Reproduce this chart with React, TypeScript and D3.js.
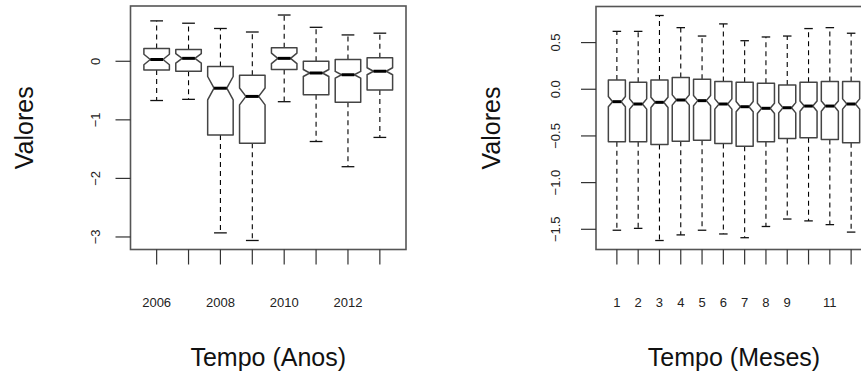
import * as d3 from "d3";
import React from "react";

// Anual boxes
const years = ["2006", "2007", "2008", "2009", "2010", "2011", "2012", "2013"];
const yearTickLabels = ["2006", "", "2008", "", "2010", "", "2012", ""];
const yearWhiskerHi = [0.69, 0.65, 0.56, 0.5, 0.79, 0.58, 0.45, 0.48];
const yearQ3 = [0.22, 0.2, -0.09, -0.24, 0.23, 0.0, 0.03, 0.06];
const yearMedian = [0.03, 0.05, -0.46, -0.6, 0.05, -0.2, -0.23, -0.17];
const yearQ1 = [-0.15, -0.17, -1.26, -1.4, -0.14, -0.57, -0.7, -0.49];
const yearWhiskerLo = [-0.67, -0.65, -2.93, -3.06, -0.69, -1.37, -1.8, -1.3];
const yearNotch = [0.09, 0.08, 0.2, 0.145, 0.09, 0.06, 0.057, 0.06];
const yearYTicks = [0, -1, -2, -3];

// Monthly boxes
const months = ["1", "2", "3", "4", "5", "6", "7", "8", "9", "10", "11", "12"];
const monthTickLabels = ["1", "2", "3", "4", "5", "6", "7", "8", "9", "", "11", ""];
const monthWhiskerHi = [0.62, 0.62, 0.79, 0.66, 0.57, 0.7, 0.52, 0.56, 0.57, 0.65, 0.66, 0.6];
const monthQ3 = [0.1, 0.075, 0.1, 0.125, 0.107, 0.082, 0.075, 0.065, 0.046, 0.075, 0.082, 0.082];
const monthMedian = [-0.133, -0.158, -0.14, -0.115, -0.122, -0.158, -0.187, -0.204, -0.198, -0.18, -0.18, -0.158];
const monthQ1 = [-0.563, -0.563, -0.591, -0.556, -0.545, -0.581, -0.61, -0.563, -0.527, -0.52, -0.538, -0.574];
const monthWhiskerLo = [-1.51, -1.49, -1.62, -1.56, -1.51, -1.55, -1.59, -1.47, -1.39, -1.41, -1.45, -1.53];
const monthNotch = [0.055, 0.055, 0.055, 0.055, 0.055, 0.055, 0.055, 0.055, 0.055, 0.055, 0.055, 0.055];
const monthYTicks = [0.5, 0, -0.5, -1, -1.5];

const FONT = "'Liberation Sans', Arial, Helvetica, sans-serif";

type PanelProps = {
  cats: string[];
  tickLabels: string[];
  hi: number[];
  q3: number[];
  med: number[];
  q1: number[];
  lo: number[];
  notch: number[];
  yTicks: number[];
  yFormat: (v: number) => string;
  left: number;
  right: number;
  top: number;
  bottom: number;
  yLabelX: number;
  yTitleX: number;
  xTitle: string;
};

function BoxPanel(p: PanelProps) {
  const n = p.cats.length;
  // R style: 4% padding on both axes
  const xPad = n * 0.04;
  const x = d3.scaleLinear().domain([0.5 - xPad, n + 0.5 + xPad]).range([p.left, p.right]);
  const ymin = d3.min(p.lo)!;
  const ymax = d3.max(p.hi)!;
  const yPad = (ymax - ymin) * 0.04;
  const y = d3.scaleLinear().domain([ymin - yPad, ymax + yPad]).range([p.bottom, p.top]);

  const wid = 0.4; // half box width (boxwex 0.8)
  const boxes = p.cats.map((c, i) => {
    const cx = i + 1;
    const m = p.med[i];
    const nt = p.notch[i];
    const pts: [number, number][] = [
      [cx - wid, p.q1[i]], [cx + wid, p.q1[i]], [cx + wid, m - nt], [cx + wid / 2, m],
      [cx + wid, m + nt], [cx + wid, p.q3[i]], [cx - wid, p.q3[i]], [cx - wid, m + nt],
      [cx - wid / 2, m], [cx - wid, m - nt],
    ];
    const line = d3.line<[number, number]>().x(d => x(d[0])).y(d => y(d[1]));
    return (
      <g key={c}>
        <line x1={x(cx)} x2={x(cx)} y1={y(p.q3[i])} y2={y(p.hi[i])} stroke="#000" strokeWidth={1.1} strokeDasharray="5,4" />
        <line x1={x(cx)} x2={x(cx)} y1={y(p.q1[i])} y2={y(p.lo[i])} stroke="#000" strokeWidth={1.1} strokeDasharray="5,4" />
        <line x1={x(cx - wid / 2)} x2={x(cx + wid / 2)} y1={y(p.hi[i])} y2={y(p.hi[i])} stroke="#111" strokeWidth={1.3} />
        <line x1={x(cx - wid / 2)} x2={x(cx + wid / 2)} y1={y(p.lo[i])} y2={y(p.lo[i])} stroke="#111" strokeWidth={1.3} />
        <path d={line(pts) + "Z"} fill="#fff" stroke="#444" strokeWidth={1.5} strokeLinejoin="round" />
        <line x1={x(cx - wid / 2)} x2={x(cx + wid / 2)} y1={y(m)} y2={y(m)} stroke="#000" strokeWidth={3} />
      </g>
    );
  });

  const midY = (p.top + p.bottom) / 2;
  return (
    <g>
      {boxes}
      <rect x={p.left} y={p.top} width={p.right - p.left} height={p.bottom - p.top} fill="none" stroke="#555" strokeWidth={1.6} />
      {p.cats.map((c, i) => (
        <line key={"xt" + c} x1={x(i + 1)} x2={x(i + 1)} y1={p.bottom} y2={p.bottom + 15} stroke="#333" strokeWidth={1.2} />
      ))}
      {p.tickLabels.map((t, i) => t && (
        <text key={"xl" + i} x={x(i + 1)} y={306.5} textAnchor="middle" fontSize={13} fontFamily={FONT} fill="#222">{t}</text>
      ))}
      {p.yTicks.map(v => (
        <g key={"yt" + v}>
          <line x1={p.left - 15} x2={p.left} y1={y(v)} y2={y(v)} stroke="#333" strokeWidth={1.2} />
          <text transform={`translate(${p.yLabelX},${y(v)}) rotate(-90)`} textAnchor="middle" fontSize={13} fontFamily={FONT} fill="#222">{p.yFormat(v)}</text>
        </g>
      ))}
      <text transform={`translate(${p.yTitleX},${midY}) rotate(-90)`} textAnchor="middle" fontSize={25} fontFamily={FONT} fill="#111">Valores</text>
      <text x={(p.left + p.right) / 2} y={366} textAnchor="middle" fontSize={25} fontFamily={FONT} fill="#111">{p.xTitle}</text>
    </g>
  );
}

export default function App() {
  return (
    <div style={{ position: "absolute", left: 0, top: 0 }}>
      <svg width={861} height={376} style={{ display: "block", background: "#fff" }}>
        <BoxPanel
          cats={years} tickLabels={yearTickLabels}
          hi={yearWhiskerHi} q3={yearQ3} med={yearMedian} q1={yearQ1} lo={yearWhiskerLo} notch={yearNotch}
          yTicks={yearYTicks} yFormat={d3.format("d")}
          left={130.5} right={406} top={6} bottom={249.5}
          yLabelX={100} yTitleX={33} xTitle="Tempo (Anos)"
        />
        <BoxPanel
          cats={months} tickLabels={monthTickLabels}
          hi={monthWhiskerHi} q3={monthQ3} med={monthMedian} q1={monthQ1} lo={monthWhiskerLo} notch={monthNotch}
          yTicks={monthYTicks} yFormat={d3.format(".1f")}
          left={596} right={872} top={6.5} bottom={249.5}
          yLabelX={560} yTitleX={500} xTitle="Tempo (Meses)"
        />
      </svg>
    </div>
  );
}
